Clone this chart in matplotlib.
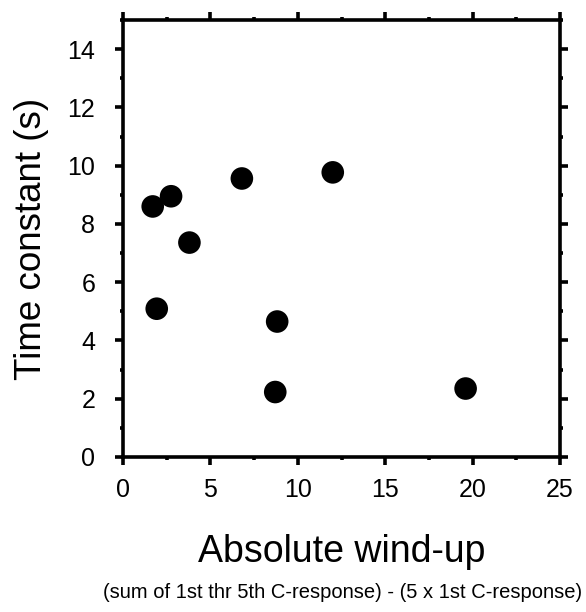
import matplotlib
matplotlib.use('Agg')
import matplotlib.pyplot as plt
from matplotlib.ticker import MultipleLocator

plt.rcParams['font.family'] = ['Liberation Sans', 'DejaVu Sans']

# absolute wind-up vs. time constant
wind_up = [1.7, 2.75, 3.8, 1.93, 6.8, 12.0, 8.82, 8.71, 19.6]
time_const = [8.6, 8.95, 7.36, 5.09, 9.56, 9.77, 4.65, 2.23, 2.35]

x_ticks = [0, 5, 10, 15, 20, 25]
y_ticks = [0, 2, 4, 6, 8, 10, 12, 14]

fig = plt.figure(figsize=(5.86, 6.12), dpi=100)
ax = fig.add_axes([123 / 586, 1 - 457 / 612, (560 - 123) / 586, (457 - 20) / 612])

ax.scatter(wind_up, time_const, s=265, c='black', edgecolors='none', zorder=3)

ax.set_xlim(0, 25)
ax.set_ylim(0, 15)
ax.set_xticks(x_ticks)
ax.set_yticks(y_ticks)
ax.xaxis.set_minor_locator(MultipleLocator(2.5))
ax.yaxis.set_minor_locator(MultipleLocator(1))

for sp in ax.spines.values():
    sp.set_linewidth(2.6)
ax.tick_params(which='both', direction='out', top=True, right=True, width=2.6)
ax.tick_params(which='major', length=6, labelsize=18)
ax.tick_params(which='minor', length=2.5)
ax.tick_params(axis='x', which='major', pad=9)
ax.tick_params(axis='y', which='major', pad=14)
ax.tick_params(axis='x', which='both', labeltop=False)
ax.tick_params(axis='y', which='both', labelright=False)

ax.set_xlabel('Absolute wind-up', fontsize=27, labelpad=23)
ax.set_ylabel('Time constant (s)', fontsize=26.5, labelpad=13)

fig.text(343 / 586, 1 - 592 / 612,
         '(sum of 1st thr 5th C-response) - (5 x 1st C-response)',
         ha='center', va='center', fontsize=14.5)

fig.savefig('out.png', dpi=100)
